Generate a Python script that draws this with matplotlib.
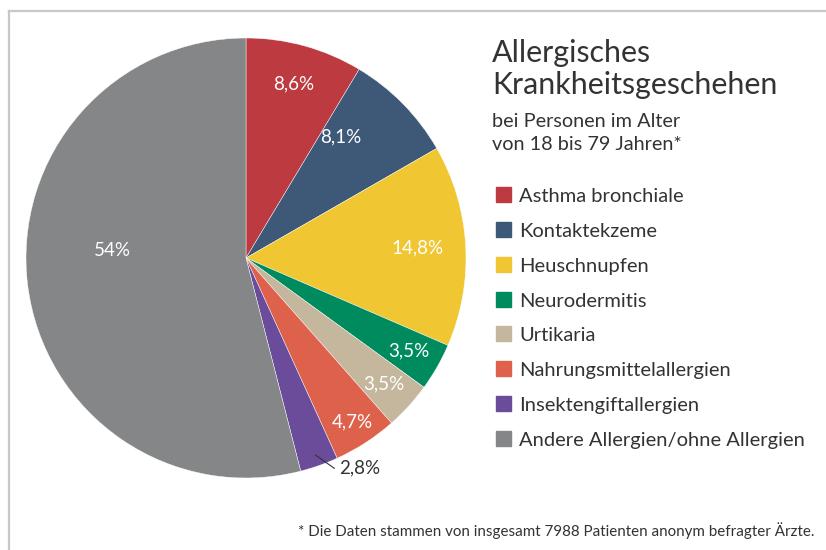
import matplotlib
matplotlib.use("Agg")
import matplotlib.pyplot as plt
from matplotlib.patches import Rectangle
from matplotlib.lines import Line2D
import numpy as np

categories = ["Asthma bronchiale", "Kontaktekzeme", "Heuschnupfen", "Neurodermitis",
              "Urtikaria", "Nahrungsmittelallergien", "Insektengiftallergien",
              "Andere Allergien/ohne Allergien"]
values = [8.6, 8.1, 14.8, 3.5, 3.5, 4.7, 2.8, 54]
value_labels = ["8,6%", "8,1%", "14,8%", "3,5%", "3,5%", "4,7%", "2,8%", "54%"]
colors = ["#BD3A40", "#3E5878", "#F0C632", "#008B5F", "#C5B79D", "#DE624B", "#6A4C9B", "#858687"]

title_lines = ["Allergisches", "Krankheitsgeschehen"]
subtitle_lines = ["bei Personen im Alter", "von 18 bis 79 Jahren*"]
footnote = "* Die Daten stammen von insgesamt 7988 Patienten anonym befragter Ärzte."

FONT = "Lato"
TXT = "#333333"
W, H = 826, 550
plt.rcParams['font.family'] = [FONT, 'DejaVu Sans']

fig = plt.figure(figsize=(W / 100, H / 100), dpi=100)
renderer = fig.canvas.get_renderer()

def px(x, y):
    return x / W, 1 - y / H

def fit_size(s, width):
    t = fig.text(0, 0, s, fontsize=12)
    w = t.get_window_extent(renderer).width
    t.remove()
    return 12 * width / w

# border
fig.add_artist(Line2D([9 / W, 9 / W], [0, 1 - 11 / H], color="#c8c8c8", lw=1.6, transform=fig.transFigure))
fig.add_artist(Line2D([9 / W, 825 / W], [1 - 11 / H, 1 - 11 / H], color="#c8c8c8", lw=1.6, transform=fig.transFigure))

# pie
cx, cy, R = 246, 258, 220
ax = fig.add_axes([(cx - R) / W, (H - cy - R) / H, 2 * R / W, 2 * R / H])
wedges, _ = ax.pie(values, colors=colors, startangle=90, counterclock=False, radius=1,
                   wedgeprops=dict(edgecolor="white", linewidth=0.3))
ax.set_xlim(-1, 1)
ax.set_ylim(-1, 1)
ax.axis("off")

label_r = [0.82, 0.70, 0.78, 0.85, 0.85, 0.89, None, 0.61]
label_dtheta = [0, 7.5, 0, 0, 0, 0, 0, -10.6]
for i, w in enumerate(wedges):
    th = np.deg2rad((w.theta1 + w.theta2) / 2 + label_dtheta[i])
    if label_r[i] is None:
        x0, y0 = 0.95 * np.cos(th), 0.95 * np.sin(th)
        x1, y1 = x0 + 0.085, y0 - 0.06
        ax.plot([x0, x1], [y0, y1], color=TXT, lw=0.8)
        ax.text(x1 + 0.02, y1, value_labels[i], color=TXT, fontsize=13.5, ha="left", va="center")
    else:
        ax.text(label_r[i] * np.cos(th), label_r[i] * np.sin(th), value_labels[i], color="white",
                fontsize=13.5, ha="center", va="center")

# title
fs_t = fit_size(title_lines[1], 285)
fig.text(*px(492, 62), title_lines[0], fontsize=fs_t, color=TXT, va="baseline")
fig.text(*px(492, 94), title_lines[1], fontsize=fs_t, color=TXT, va="baseline")
fs_s = fit_size(subtitle_lines[1], 189)
fig.text(*px(492, 127), subtitle_lines[0], fontsize=fs_s, color=TXT, va="baseline")
fig.text(*px(492, 150), subtitle_lines[1], fontsize=fs_s, color=TXT, va="baseline")

# legend
leg_fs = fit_size(categories[-1], 286)
for i, (c, lab) in enumerate(zip(colors, categories)):
    top = 187 + i * 34.85
    fig.add_artist(Rectangle(px(496, top + 15), 15 / W, 15 / H, color=c, transform=fig.transFigure))
    fig.text(*px(519, top + 15), lab, color=TXT, fontsize=leg_fs, va="baseline")

# footnote
fs_f = fit_size(footnote, 513)
fig.text(*px(815, 536), footnote, fontsize=fs_f, color=TXT, ha="right", va="baseline")

fig.savefig("out.png", dpi=100)
